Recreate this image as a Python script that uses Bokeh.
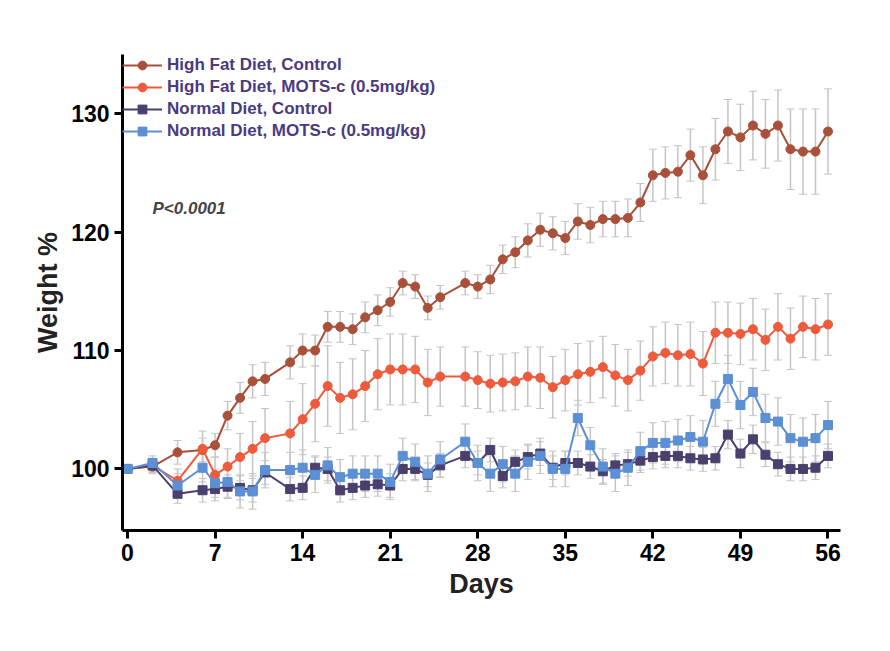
from bokeh.plotting import figure
from bokeh.models import ColumnDataSource, Whisker, Legend, LegendItem, Label, FixedTicker
from bokeh.embed import file_html
from bokeh.resources import INLINE

days = [0, 2, 4, 6, 7, 8, 9, 10, 11, 13, 14, 15, 16, 17, 18, 19, 20, 21, 22, 23, 24, 25,
        27, 28, 29, 30, 31, 32, 33, 34, 35, 36, 37, 38, 39, 40, 41, 42, 43, 44, 45, 46,
        47, 48, 49, 50, 51, 52, 53, 54, 55, 56]

hfd_ctrl = [100, 100.2, 101.4, 101.6, 102, 104.5, 106, 107.4, 107.6, 109, 110, 110, 112, 112,
            111.8, 112.8, 113.4, 114.1, 115.7, 115.4, 113.6, 114.5, 115.7, 115.4, 116, 117.7,
            118.3, 119.3, 120.2, 119.9, 119.5, 120.9, 120.6, 121.1, 121.1, 121.2, 122.5, 124.8,
            125, 125.1, 126.5, 124.8, 127, 128.5, 128, 129, 128.3, 129, 127, 126.8, 126.8, 128.5]
hfd_ctrl_err = [0.3, 0.6, 1.0, 1.0, 1.0, 1.2, 1.3, 1.4, 1.4, 1.4, 1.4, 1.3, 1.3, 1.3, 1.3, 1.3,
                1.3, 1.2, 1.0, 1.0, 1.0, 1.0, 1.0, 1.0, 1.2, 1.2, 1.3, 1.4, 1.4, 1.4, 1.4, 1.5,
                1.5, 1.5, 1.5, 1.6, 1.6, 2.2, 2.2, 2.2, 2.2, 2.4, 2.6, 2.7, 2.8, 2.9, 2.9, 3.0,
                3.4, 3.6, 3.6, 3.6]

hfd_mots = [100, 100.3, 99, 101.7, 99.5, 100.2, 101, 101.7, 102.6, 103, 104.2, 105.5, 107, 106,
            106.3, 107, 108, 108.4, 108.4, 108.4, 107.3, 107.8, 107.8, 107.5, 107.2, 107.3,
            107.4, 107.8, 107.7, 106.9, 107.5, 108, 108.2, 108.6, 107.9, 107.5, 108.3, 109.5,
            109.8, 109.6, 109.7, 108.9, 111.5, 111.5, 111.4, 111.8, 110.9, 112, 111, 112,
            111.8, 112.2]
hfd_mots_err = [0.3, 0.6, 1.0, 1.5, 1.5, 1.5, 2.0, 2.3, 2.5, 2.7, 3.0, 3.2, 3.4, 3.0, 3.0, 3.0,
                3.0, 3.0, 3.0, 2.8, 2.8, 2.5, 2.5, 2.4, 2.4, 2.4, 2.4, 2.5, 2.6, 2.6, 2.6, 2.6,
                2.6, 2.6, 2.6, 2.6, 2.5, 2.5, 2.6, 2.6, 2.7, 2.7, 2.6, 2.6, 2.6, 2.6, 2.6, 2.8,
                2.6, 2.6, 2.6, 2.6]

nd_ctrl = [100, 100.3, 97.9, 98.2, 98.3, 98.5, 98.4, 98.2, 99.7, 98.3, 98.4, 100.1, 100, 98.2,
           98.4, 98.6, 98.7, 98.6, 100, 100, 99.5, 100.3, 101.1, 100.5, 101.6, 99.4, 100.6,
           101, 101.3, 100.1, 100.5, 100.5, 100.2, 99.8, 100.3, 100.4, 100.7, 101, 101.1,
           101.1, 100.9, 100.8, 100.9, 102.9, 101.3, 102.5, 101.2, 100.4, 100, 100, 100.1, 101.1]
nd_ctrl_err = [0.3, 0.5, 0.8, 1.0, 1.0, 1.0, 1.0, 1.0, 1.0, 1.0, 1.0, 1.0, 1.0, 1.0, 1.0, 1.0,
               1.0, 1.0, 1.0, 1.0, 1.0, 1.0, 1.0, 1.0, 1.0, 1.0, 1.0, 1.0, 1.0, 1.0, 1.0, 1.0,
               1.0, 1.0, 1.0, 1.0, 1.0, 1.0, 1.0, 1.0, 1.0, 1.0, 1.0, 1.2, 1.2, 1.2, 1.0, 1.0,
               1.0, 1.0, 1.0, 1.0]

nd_mots = [100, 100.5, 98.6, 100.1, 98.8, 98.9, 98.1, 98.1, 99.9, 99.9, 100.1, 99.5, 100.3,
           99.3, 99.6, 99.6, 99.6, 98.9, 101.1, 100.6, 99.6, 100.8, 102.3, 100.5, 99.6, 100.4,
           99.6, 100.6, 101.1, 100, 100, 104.3, 102, 100.2, 99.6, 100.1, 101.5, 102.2, 102.2,
           102.4, 102.7, 102.3, 105.5, 107.6, 105.4, 106.5, 104.3, 104, 102.6, 102.3, 102.6,
           103.7]
nd_mots_err = [0.3, 0.6, 1.0, 1.2, 1.2, 1.3, 1.4, 1.5, 1.5, 1.5, 1.5, 1.5, 1.5, 1.5, 1.5, 1.5,
               1.5, 1.5, 1.5, 1.5, 1.5, 1.5, 1.5, 1.5, 1.5, 1.5, 1.5, 1.5, 1.5, 1.5, 1.5, 1.5,
               1.5, 1.5, 1.5, 1.5, 1.6, 1.7, 1.8, 1.8, 1.8, 1.8, 1.9, 2.0, 2.0, 2.0, 2.0, 2.0,
               2.0, 2.0, 2.0, 2.0]

series = [
    ("High Fat Diet, Control", hfd_ctrl, hfd_ctrl_err, "#a9503a", "circle"),
    ("High Fat Diet, MOTS-c (0.5mg/kg)", hfd_mots, hfd_mots_err, "#ee5a3c", "circle"),
    ("Normal Diet, Control", nd_ctrl, nd_ctrl_err, "#4b3f6e", "square"),
    ("Normal Diet, MOTS-c (0.5mg/kg)", nd_mots, nd_mots_err, "#5c8fd3", "square"),
]

p = figure(width=874, height=635, x_range=(-0.4, 57), y_range=(94.8, 135),
           output_backend="svg", toolbar_location=None,
           min_border_left=122, min_border_bottom=105, min_border_top=54, min_border_right=34)
p.outline_line_color = None
p.grid.grid_line_color = None

# error bars first so the markers sit on top
for name, ys, err, col, mk in series:
    src = ColumnDataSource(dict(x=days, lo=[a - b for a, b in zip(ys, err)],
                                hi=[a + b for a, b in zip(ys, err)]))
    w = Whisker(base="x", lower="lo", upper="hi", source=src, line_color="#c4c4c4",
                line_width=1.5, level="underlay")
    w.upper_head.size = 8
    w.lower_head.size = 8
    w.upper_head.line_color = "#c4c4c4"
    w.lower_head.line_color = "#c4c4c4"
    p.add_layout(w)

items = []
for name, ys, err, col, mk in series:
    r1 = p.line(days, ys, line_color=col, line_width=2)
    r2 = p.scatter(days, ys, marker=mk, size=9, fill_color=col, line_color=col)
    items.append(LegendItem(label=name, renderers=[r1, r2]))

legend = Legend(items=items, location="top_left", background_fill_alpha=0,
                border_line_color=None, label_text_font="Liberation Sans",
                label_text_font_style="bold", label_text_font_size="17px",
                label_text_color="#4a3a80", glyph_width=40, spacing=0,
                label_height=22, glyph_height=22, margin=0, padding=0)
p.add_layout(legend)

for ax in (p.xaxis, p.yaxis):
    ax.axis_line_width = 3
    ax.major_tick_line_width = 3
    ax.major_tick_out = 8
    ax.major_tick_in = 0
    ax.minor_tick_line_color = None
    ax.major_label_text_font = "Liberation Sans"
    ax.major_label_text_font_style = "bold"
    ax.major_label_text_font_size = "23px"
    ax.major_label_text_color = "black"
    ax.axis_label_text_font = "Liberation Sans"
    ax.axis_label_text_font_style = "bold"
    ax.axis_label_text_font_size = "27px"
    ax.axis_label_text_color = "#222222"

p.xaxis.ticker = FixedTicker(ticks=[0, 7, 14, 21, 28, 35, 42, 49, 56])
p.yaxis.ticker = FixedTicker(ticks=[100, 110, 120, 130])
p.xaxis.axis_label = "Days"
p.yaxis.axis_label = "Weight %"

p.add_layout(Label(x=2, y=121.2, text="P<0.0001", text_font="Liberation Sans",
                   text_font_style="bold italic", text_font_size="17px"))
p.add_layout(Label(x=18, y=578, x_units="screen", y_units="screen", text="A",
                   text_font="Liberation Sans", text_font_style="bold",
                   text_font_size="30px"))

open("out.html", "w").write(file_html(p, INLINE))
